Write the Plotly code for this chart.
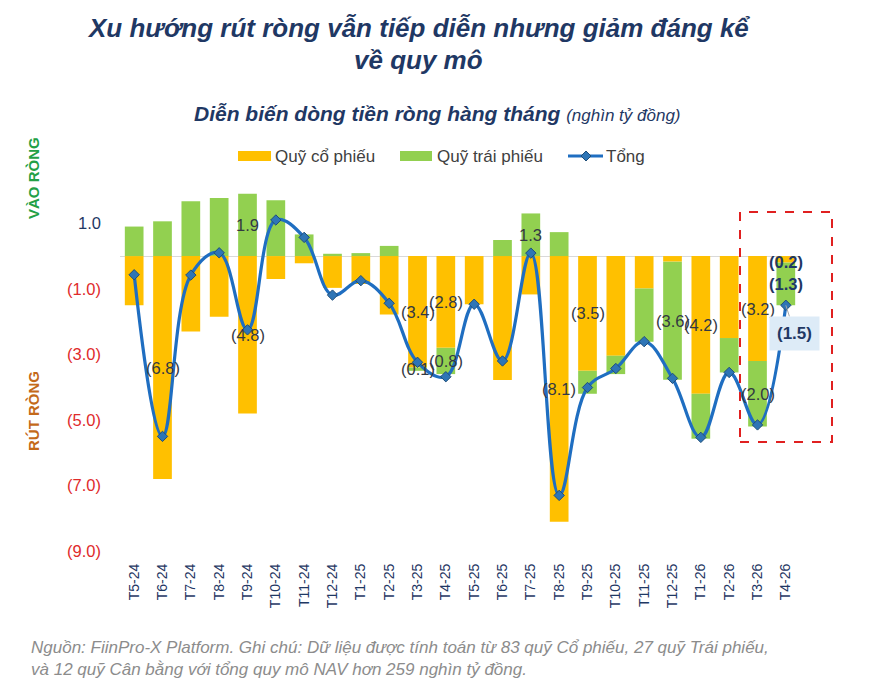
import plotly.graph_objects as go

months = ["T5-24", "T6-24", "T7-24", "T8-24", "T9-24", "T10-24", "T11-24", "T12-24",
          "T1-25", "T2-25", "T3-25", "T4-25", "T5-25", "T6-25", "T7-25", "T8-25",
          "T9-25", "T10-25", "T11-25", "T12-25", "T1-26", "T2-26", "T3-26", "T4-26"]
equity = [-1.5, -6.8, -2.3, -1.85, -4.8, -0.7, -0.22, -0.97, -0.85, -1.78, -3.4, -2.8,
          -1.47, -3.78, -1.17, -8.1, -3.5, -3.04, -0.99, -0.17, -4.2, -2.5, -3.2, -0.2]
bond = [0.9, 1.06, 1.67, 1.77, 1.9, 1.7, 0.66, 0.07, 0.09, 0.31, -0.1, -0.8,
        0.0, 0.49, 1.3, 0.73, -0.7, -0.56, -1.62, -3.6, -1.37, -1.05, -2.0, -1.3]
total = [-0.57, -5.5, -0.58, 0.1, -2.25, 1.1, 0.57, -1.19, -0.75, -1.44, -3.24, -3.68,
         -1.47, -3.2, 0.09, -7.3, -4.01, -3.43, -2.61, -3.73, -5.53, -3.55, -5.15, -1.5]

# which segment labels are shown
equity_label_months = ["T6-24", "T9-24", "T3-25", "T4-25", "T8-25", "T9-25", "T1-26", "T3-26"]
bond_label_months = ["T9-24", "T3-25", "T4-25", "T7-25", "T12-25", "T3-26"]
highlight_month = "T4-26"

ytick_vals = [1, -1, -3, -5, -7, -9]
series_names = ["Quỹ cổ phiếu", "Quỹ trái phiếu", "Tổng"]

ORANGE = "#FFC000"
GREEN = "#92D050"
LINE = "#1F6EC1"
NAVY = "#1F3864"
FONT = "Liberation Sans, Arial, sans-serif"

# plot area in pixels (for decorations placed in paper coords)
PL, PR, PT, PB = 120, 800, 180, 560


def px(x):
    return (x - PL) / (PR - PL)


def py(y):
    return (PB - y) / (PB - PT)


def fmt(v):
    return f"({abs(v):.1f})" if v < 0 else f"{v:.1f}"


fig = go.Figure()
fig.add_trace(go.Bar(x=months, y=equity, name=series_names[0], marker_color=ORANGE,
                     marker_line_width=0, width=0.66))
fig.add_trace(go.Bar(x=months, y=bond, name=series_names[1], marker_color=GREEN,
                     marker_line_width=0, width=0.66))
fig.add_trace(go.Scatter(x=months, y=total, name=series_names[2], mode="lines+markers",
                         line=dict(color=LINE, width=3.2, shape="spline", smoothing=1.1),
                         marker=dict(symbol="diamond", size=8, color="#2E75B6",
                                     line=dict(color="#1F4E79", width=1))))

annotations = []
label_font = dict(family=FONT, size=16.5, color="#333842")
bold_font = dict(family=FONT, size=16.5, color=NAVY)
for i, m in enumerate(months):
    e, b = equity[i], bond[i]
    if m == highlight_month:
        annotations.append(dict(x=m, y=e / 2, text=f"<b>{fmt(e)}</b>", showarrow=False,
                                font=bold_font, yshift=-3))
        base = e if b < 0 else 0
        annotations.append(dict(x=m, y=base + b / 2, text=f"<b>{fmt(b)}</b>", showarrow=False,
                                font=bold_font))
        annotations.append(dict(x=m, y=total[i], text=f"<b>{fmt(total[i])}</b>", showarrow=True,
                                arrowhead=0, arrowwidth=1, arrowcolor="#A6A6A6",
                                ax=9, ay=28, bgcolor="#DDEBF7", borderpad=7,
                                font=dict(family=FONT, size=17, color=NAVY)))
        continue
    if m in equity_label_months:
        annotations.append(dict(x=m, y=e / 2, text=fmt(e), showarrow=False, font=label_font))
    if m in bond_label_months:
        base = e if b < 0 else 0
        annotations.append(dict(x=m, y=base + b / 2, text=fmt(b), showarrow=False, font=label_font))

# titles and side labels
annotations += [
    dict(xref="paper", yref="paper", x=px(418), y=py(28), xanchor="center", yanchor="middle",
         text="<b><i>Xu hướng rút ròng vẫn tiếp diễn nhưng giảm đáng kể</i></b>",
         showarrow=False, font=dict(family=FONT, size=26, color=NAVY)),
    dict(xref="paper", yref="paper", x=px(418), y=py(60), xanchor="center", yanchor="middle",
         text="<b><i>về quy mô</i></b>",
         showarrow=False, font=dict(family=FONT, size=26, color=NAVY)),
    dict(xref="paper", yref="paper", x=px(437), y=py(114), xanchor="center", yanchor="middle",
         text="<b><i>Diễn biến dòng tiền ròng hàng tháng</i></b> "
              "<i><span style='font-size:17px'>(nghìn tỷ đồng)</span></i>",
         showarrow=False, font=dict(family=FONT, size=21, color=NAVY)),
    dict(xref="paper", yref="paper", x=px(33), y=py(178), xanchor="center", yanchor="middle",
         text="<b>VÀO RÒNG</b>", textangle=-90, showarrow=False,
         font=dict(family=FONT, size=15, color="#22A046")),
    dict(xref="paper", yref="paper", x=px(33), y=py(411), xanchor="center", yanchor="middle",
         text="<b>RÚT RÒNG</b>", textangle=-90, showarrow=False,
         font=dict(family=FONT, size=15, color="#C4691A")),
    dict(xref="paper", yref="paper", x=px(29), y=py(658), xanchor="left", align="left",
         yanchor="middle",
         text="<i>Nguồn: FiinPro-X Platform. Ghi chú: Dữ liệu được tính toán từ 83 quỹ Cổ phiếu, 27 quỹ Trái phiếu,"
              "<br>và 12 quỹ Cân bằng với tổng quy mô NAV hơn 259 nghìn tỷ đồng.</i>",
         showarrow=False, font=dict(family=FONT, size=17, color="#8C8C8C")),
]

# custom legend (wide swatches like the original)
LEG_Y = 156
legend_font = dict(family=FONT, size=17, color="#404040")
annotations += [
    dict(xref="paper", yref="paper", x=px(273), y=py(LEG_Y), xanchor="left", yanchor="middle",
         text=series_names[0], showarrow=False, font=legend_font),
    dict(xref="paper", yref="paper", x=px(435), y=py(LEG_Y), xanchor="left", yanchor="middle",
         text=series_names[1], showarrow=False, font=legend_font),
    dict(xref="paper", yref="paper", x=px(604), y=py(LEG_Y), xanchor="left", yanchor="middle",
         text=series_names[2], showarrow=False, font=legend_font),
]
dx, dy = 5 / (PR - PL), 5 / (PB - PT)
shapes = [
    dict(type="rect", xref="paper", yref="paper", x0=px(238), x1=px(271),
         y0=py(LEG_Y + 5), y1=py(LEG_Y - 5), fillcolor=ORANGE, line_width=0),
    dict(type="rect", xref="paper", yref="paper", x0=px(400), x1=px(432),
         y0=py(LEG_Y + 5), y1=py(LEG_Y - 5), fillcolor=GREEN, line_width=0),
    dict(type="line", xref="paper", yref="paper", x0=px(568), x1=px(603),
         y0=py(LEG_Y), y1=py(LEG_Y), line=dict(color=LINE, width=3.2)),
    dict(type="path", xref="paper", yref="paper",
         path=f"M {px(586)-dx} {py(LEG_Y)} L {px(586)} {py(LEG_Y)+dy} "
              f"L {px(586)+dx} {py(LEG_Y)} L {px(586)} {py(LEG_Y)-dy} Z",
         fillcolor="#2E75B6", line=dict(color="#1F4E79", width=1)),
    dict(type="rect", xref="paper", yref="paper",
         x0=px(740), x1=px(832), y0=py(442), y1=py(212),
         line=dict(color="#E02020", width=2, dash="dash")),
]

ytick_text = [f"<span style='color:{NAVY}'>{fmt(v)}</span>" if v > 0 else
              f"<span style='color:#E02B2B'>{fmt(v)}</span>" for v in ytick_vals]

fig.update_layout(
    width=870, height=696,
    margin=dict(l=PL, r=870 - PR, t=PT, b=696 - PB, autoexpand=False),
    paper_bgcolor="white", plot_bgcolor="white",
    barmode="relative", bargap=0.34,
    font=dict(family=FONT, size=15, color="#404040"),
    showlegend=False,
    xaxis=dict(type="category", range=[-0.5, 23.5], tickangle=-90, showgrid=False,
               showline=False, ticks="", tickfont=dict(family=FONT, size=14, color=NAVY)),
    yaxis=dict(range=[-9.27, 2.32], tickvals=ytick_vals, ticktext=ytick_text,
               showgrid=False, zeroline=True, zerolinecolor="#D9D9D9", zerolinewidth=1,
               showline=False, ticks="", ticklabelstandoff=18,
               tickfont=dict(family=FONT, size=16.5)),
    annotations=annotations,
    shapes=shapes,
)

fig.write_html("out.html")
